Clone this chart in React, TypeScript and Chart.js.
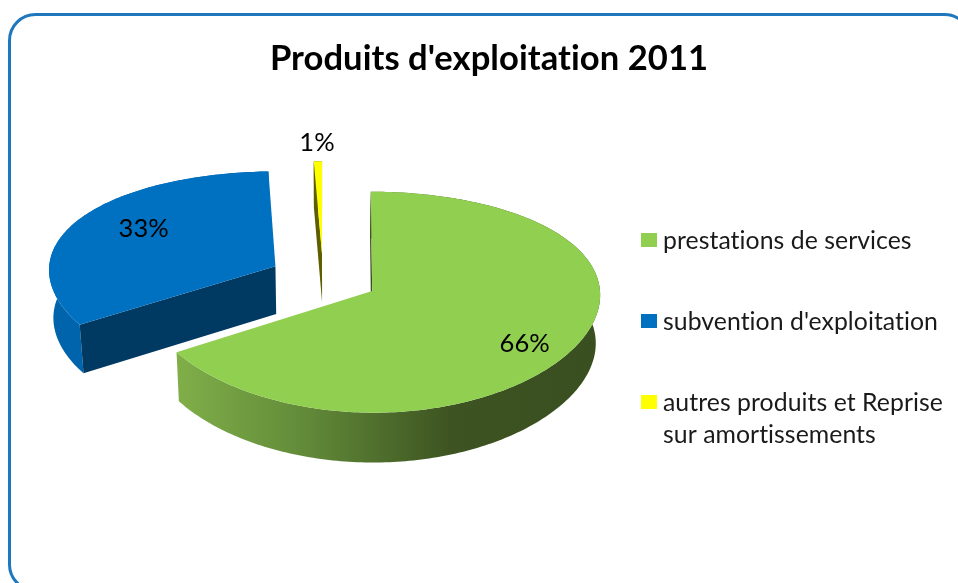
import React, { useEffect, useRef } from "react";
import { Chart, registerables } from "chart.js";

Chart.register(...registerables);

const chartTitle = "Produits d'exploitation 2011";
const categories = ["prestations de services", "subvention d'exploitation", "autres produits et Reprise sur amortissements"];
const legendLines = [["prestations de services"], ["subvention d'exploitation"], ["autres produits et Reprise", "sur amortissements"]];
const shares = [66.1, 33.3, 0.6];
const topColors = ["#90CF50", "#0070C0", "#FFFF00"];
const cutColors = ["#3C5121", "#003A63", "#5E5E00"];

// 3D look
const explosion = [56, 54, 52];
const labelRadius = [0.8, 0.7, 1.23];
const labelTurn = [5.9, 4.5, 0];
const TILT = 0.47;
const DIST = 2250;
const DEPTH = 48;
const FONT = "Lato, Carlito, sans-serif";

const pie3d = {
  id: "pie3d",
  beforeDraw(chart: any) {
    const ctx = chart.ctx;
    ctx.save();
    ctx.fillStyle = "#ffffff";
    ctx.fillRect(0, 0, chart.width, chart.height);
    ctx.beginPath();
    ctx.roundRect(9.5, 14.5, 961, 576, 26);
    ctx.lineWidth = 3;
    ctx.strokeStyle = "#1F78BE";
    ctx.stroke();
    ctx.restore();
  },
  beforeDatasetsDraw(chart: any) {
    const ctx = chart.ctx;
    const arcs = chart.getDatasetMeta(0).data;
    const project = (cx: number, cy: number, mx: number, my: number, z: number) => {
      const f = 1 / (1 - my / DIST);
      const fx = 1 + (f - 1) * 0.3;
      return [cx + mx * fx * (1 - z * 0.00033), cy + TILT * my * f + z * fx];
    };
    const sliceGeom = (i: number) => {
      const el = arcs[i];
      const p = el.getProps(["x", "y", "startAngle", "endAngle", "outerRadius"], true);
      const mid = (p.startAngle + p.endAngle) / 2;
      return { ...p, ox: Math.cos(mid) * explosion[i], oy: Math.sin(mid) * explosion[i], mid };
    };
    const poly = (pts: number[][], fill: any) => {
      ctx.beginPath();
      pts.forEach((q, j) => (j ? ctx.lineTo(q[0], q[1]) : ctx.moveTo(q[0], q[1])));
      ctx.closePath();
      ctx.fillStyle = fill;
      ctx.fill();
    };
    const wallFill = (i: number) => {
      if (i === 0) {
        const g = ctx.createLinearGradient(176, 0, 600, 0);
        g.addColorStop(0, "#80AF49");
        g.addColorStop(0.3, "#628B39");
        g.addColorStop(0.65, "#3D5321");
        g.addColorStop(1, "#3A4F20");
        return g;
      }
      return i === 1 ? "#0064AC" : "#5E5E00";
    };
    ctx.save();
    [1, 2, 0].forEach((i) => {
      const s = sliceGeom(i);
      const N = Math.max(8, Math.ceil(((s.endAngle - s.startAngle) / (2 * Math.PI)) * 360));
      const at = (t: number, z: number, r = s.outerRadius) =>
        project(s.x, s.y, s.ox + Math.cos(t) * r, s.oy + Math.sin(t) * r, z);
      const rim = (z: number) => {
        const out = [];
        for (let j = 0; j <= N; j++) out.push(at(s.startAngle + ((s.endAngle - s.startAngle) * j) / N, z));
        return out;
      };
      const apexT = at(0, 0, 0);
      const apexB = at(0, DEPTH, 0);
      poly([...rim(0), ...rim(DEPTH).reverse()], wallFill(i));
      poly([apexT, at(s.startAngle, 0), at(s.startAngle, DEPTH), apexB], cutColors[i]);
      poly([apexT, ...rim(0)], topColors[i]);
    });

    // no ligatures: the reference font has none
    ctx.letterSpacing = "0.05px";

    // percentage labels
    ctx.fillStyle = "#000000";
    ctx.font = `25.5px ${FONT}`;
    ctx.textAlign = "center";
    ctx.textBaseline = "middle";
    const total = shares.reduce((a, b) => a + b, 0);
    shares.forEach((v, i) => {
      const s = sliceGeom(i);
      const t = s.mid + (labelTurn[i] * Math.PI) / 180;
      const r = s.outerRadius * labelRadius[i];
      const q = project(s.x, s.y, s.ox + Math.cos(t) * r, s.oy + Math.sin(t) * r, 0);
      ctx.fillText(`${Math.round((v / total) * 100)}%`, q[0], q[1]);
    });

    // title
    ctx.font = `bold 34.6px ${FONT}`;
    ctx.fillText(chartTitle, 489, 59);

    // legend
    ctx.textAlign = "left";
    ctx.textBaseline = "alphabetic";
    ctx.font = `24.8px ${FONT}`;
    const rows = [233, 314, 395];
    legendLines.forEach((lines, i) => {
      ctx.fillStyle = topColors[i];
      ctx.fillRect(641, rows[i], 16, 14);
      ctx.fillStyle = "#1a1a1a";
      lines.forEach((line, j) => ctx.fillText(line, 663, rows[i] + 16 + j * 32));
    });
    ctx.restore();
    return false;
  },
};

export default function App() {
  const ref = useRef<HTMLCanvasElement>(null);
  useEffect(() => {
    const chart = new Chart(ref.current as HTMLCanvasElement, {
      type: "pie",
      data: {
        labels: categories,
        datasets: [{ data: shares, backgroundColor: topColors, borderWidth: 0 }],
      },
      options: {
        animation: false,
        responsive: false,
        radius: 227,
        layout: { padding: { left: 0, right: 312, top: 0, bottom: 27 } },
        plugins: { legend: { display: false }, title: { display: false }, tooltip: { enabled: false } },
      } as any,
      plugins: [pie3d as any],
    });
    return () => chart.destroy();
  }, []);
  return (
    <div style={{ position: "fixed", left: 0, top: 0, width: 958, height: 583, overflow: "hidden", background: "#fff" }}>
      <canvas ref={ref} width={958} height={583} style={{ display: "block" }} />
    </div>
  );
}
